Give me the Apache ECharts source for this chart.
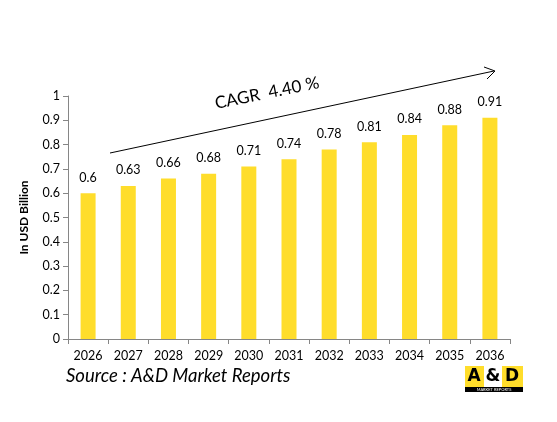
<!DOCTYPE html>
<html><head><meta charset="utf-8">
<script src="https://cdn.jsdelivr.net/npm/echarts@6/dist/echarts.min.js"></script>
<style>html,body{margin:0;padding:0;background:#fff}#c{width:557px;height:422px}</style>
</head><body><div id="c"></div>
<script>
const years = ['2026','2027','2028','2029','2030','2031','2032','2033','2034','2035','2036'];
const values = [0.6,0.63,0.66,0.68,0.71,0.74,0.78,0.81,0.84,0.88,0.91];
const yTicks = [0,0.1,0.2,0.3,0.4,0.5,0.6,0.7,0.8,0.9,1];
const FONT = 'Lato, "Open Sans", sans-serif';
const chart = echarts.init(document.getElementById('c'));
chart.setOption({
  animation:false,
  grid:{left:68,right:47,top:96,bottom:83},
  xAxis:{type:'category',data:years,
    axisLine:{lineStyle:{color:'#868686'}},
    axisTick:{show:true,alignWithLabel:false,length:5,lineStyle:{color:'#868686'}},
    axisLabel:{color:'#000',fontSize:12.5,fontFamily:FONT,margin:10}},
  yAxis:{type:'value',min:0,max:1,interval:0.1,
    name:'In USD Billion',nameLocation:'middle',nameGap:38,
    nameTextStyle:{fontFamily:FONT,fontWeight:'bold',fontSize:12,color:'#000'},
    axisLine:{show:true,lineStyle:{color:'#868686'}},
    axisTick:{show:true,length:5,lineStyle:{color:'#868686'}},
    splitLine:{show:false},
    axisLabel:{color:'#000',fontSize:12.5,fontFamily:FONT,margin:8,
      formatter:v=>{const t=yTicks.find(x=>Math.abs(x-v)<1e-9);return t===undefined?'':String(t);}}},
  series:[{type:'bar',data:values,barWidth:15,
    itemStyle:{color:'#FFDD2B'},
    label:{show:true,position:'top',distance:9,color:'#000',fontSize:12.5,fontFamily:FONT}}],
  graphic:[
    {type:'line',shape:{x1:110,y1:153,x2:494,y2:71},style:{stroke:'#000',lineWidth:1}},
    {type:'polyline',shape:{points:[[484,67],[495,71],[487,79]]},style:{stroke:'#000',lineWidth:1,fill:null}},
    {type:'text',x:267,y:93,rotation:11.5*Math.PI/180,style:{text:'CAGR  4.40 %',fontFamily:FONT,fontSize:17,fill:'#000',textAlign:'center',textVerticalAlign:'middle'}},
    {type:'text',x:66,y:376,style:{text:'Source : A&D Market Reports',fontFamily:FONT,fontSize:18.5,fontStyle:'italic',fill:'#000',textVerticalAlign:'middle'}},
    {type:'rect',shape:{x:465,y:366,width:58,height:21},style:{fill:'#FFDD2B'}},
    {type:'rect',shape:{x:484,y:366,width:18,height:21},style:{fill:'#fff'}},
    {type:'rect',shape:{x:465,y:387,width:58,height:5},style:{fill:'#000'}},
    {type:'text',x:474,y:377,style:{text:'A',fontFamily:'"DejaVu Sans", sans-serif',fontWeight:'bold',fontSize:17,fill:'#000',textAlign:'center',textVerticalAlign:'middle'}},
    {type:'text',x:493,y:377,style:{text:'&',fontFamily:'"DejaVu Sans", sans-serif',fontWeight:'bold',fontSize:17,fill:'#000',textAlign:'center',textVerticalAlign:'middle'}},
    {type:'text',x:512,y:377,style:{text:'D',fontFamily:'"DejaVu Sans", sans-serif',fontWeight:'bold',fontSize:17,fill:'#000',textAlign:'center',textVerticalAlign:'middle'}},
    {type:'text',x:494,y:389.5,style:{text:'MARKET REPORTS',fontFamily:FONT,fontSize:4,fill:'#fff',textAlign:'center',textVerticalAlign:'middle'}}
  ]
});
</script></body></html>
